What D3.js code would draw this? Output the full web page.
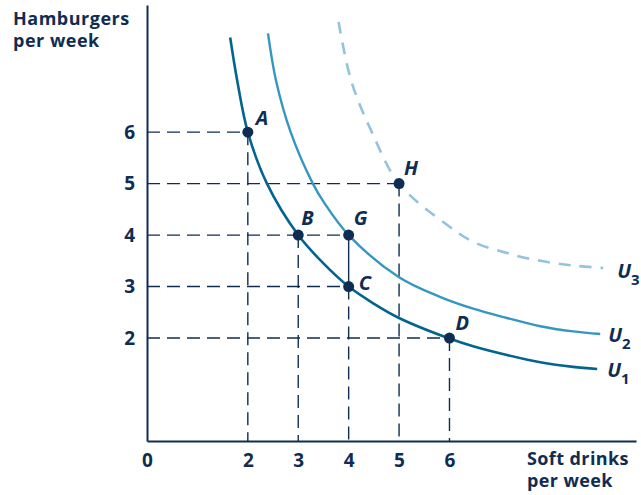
<!DOCTYPE html>
<html><head><meta charset="utf-8">
<script src="https://cdn.jsdelivr.net/npm/d3@7"></script>
<style>body{margin:0;background:#fff}svg{display:block}text{font-family:"Open Sans",sans-serif;font-weight:700;fill:#0f2d52}</style>
</head><body><svg id="c" width="641" height="495"></svg>
<script>
const xTicks = [0, 2, 3, 4, 5, 6];
const yTicks = [2, 3, 4, 5, 6];
const u1 = [[1.65,7.84],[1.79,7.0],[2,6],[2.38,5],[3,4],[3.49,3.46],[4,3],[4.48,2.68],[5,2.39],[6,1.99],[6.47,1.84],[7.14,1.67],[7.8,1.53],[8.45,1.44],[8.93,1.40]];
const u2 = [[2.4,7.92],[2.56,7.0],[2.85,6.0],[3.29,5],[3.52,4.62],[4,4],[5,3.18],[5.81,2.8],[6.47,2.57],[7.14,2.39],[7.8,2.23],[8.45,2.13],[8.99,2.08]];
const u3 = [[3.8,8.14],[4.05,7.0],[4.46,6.0],[5,5],[5.95,4.2],[6.47,3.87],[7.14,3.65],[7.8,3.5],[8.45,3.41],[9.05,3.36]];
const points = [
  {name:"A", x:2, y:6}, {name:"B", x:3, y:4}, {name:"C", x:4, y:3},
  {name:"D", x:6, y:2}, {name:"G", x:4, y:4}, {name:"H", x:5, y:5}
];
const curveLabels = [{sub:"3", data:u3, dx:14, dy:10}, {sub:"2", data:u2, dx:8, dy:8}, {sub:"1", data:u1, dx:10, dy:8}];

const svg = d3.select("#c");
const x = d3.scaleLinear().domain([0, 9.7]).range([147, 636]);
const y = d3.scaleLinear().domain([0, 8.47]).range([441, 5]);
const navy = "#0f2d52";

// dashed guides
const g = svg.append("g").attr("stroke", navy).attr("stroke-width", 1.4).attr("stroke-dasharray", "13,7").attr("fill","none");
const horiz = [{y:6,x:2},{y:5,x:5},{y:4,x:4},{y:3,x:4},{y:2,x:6}];
horiz.forEach(h => g.append("line").attr("x1", x(0)).attr("x2", x(h.x)).attr("y1", y(h.y)).attr("y2", y(h.y)));
const vert = [{x:2,y:6},{x:3,y:4},{x:4,y:3},{x:5,y:5},{x:6,y:2}];
vert.forEach(v => g.append("line").attr("x1", x(v.x)).attr("x2", x(v.x)).attr("y1", y(v.y)).attr("y2", y(0)));
svg.append("line").attr("stroke", navy).attr("stroke-width",1.4)
  .attr("x1", x(4)).attr("x2", x(4)).attr("y1", y(4)).attr("y2", y(3));

// axes
const xAxis = d3.axisBottom(x).tickValues(xTicks).tickSize(0).tickPadding(13).tickFormat(d3.format("d"));
const yAxis = d3.axisLeft(y).tickValues(yTicks).tickSize(0).tickPadding(12).tickFormat(d3.format("d"));
const xa = svg.append("g").attr("transform", `translate(0,${y(0)})`).call(xAxis);
const ya = svg.append("g").attr("transform", `translate(${x(0)},0)`).call(yAxis);
[xa, ya].forEach(a => {
  a.select(".domain").attr("stroke", navy).attr("stroke-width", 2);
  a.selectAll("text").style("font-size","19px").style("font-family","'Open Sans',sans-serif").style("font-weight","700").attr("fill", navy);
});

// curves
const line = d3.line().x(d => x(d[0])).y(d => y(d[1])).curve(d3.curveCatmullRom.alpha(0.5));
svg.append("path").datum(u3).attr("d", line).attr("fill","none").attr("stroke","#93c3dd").attr("stroke-width",2.6).attr("stroke-dasharray","12,9");
svg.append("path").datum(u2).attr("d", line).attr("fill","none").attr("stroke","#3597c1").attr("stroke-width",2.4);
svg.append("path").datum(u1).attr("d", line).attr("fill","none").attr("stroke","#03658f").attr("stroke-width",2.6);

// points
svg.selectAll("circle.pt").data(points).join("circle").attr("class","pt")
  .attr("cx", d => x(d.x)).attr("cy", d => y(d.y)).attr("r", 5.5).attr("fill", navy);
const off = {A:[8,-14], B:[3,-17], G:[5,-17], C:[10,-4], D:[6,-15], H:[5,-16]};
svg.selectAll("text.pl").data(points).join("text").attr("class","pl")
  .attr("x", d => x(d.x) + off[d.name][0]).attr("y", d => y(d.y) + off[d.name][1]).attr("dy","0.35em")
  .style("font-size","20px").style("font-style","italic").text(d => d.name);

// curve labels
const cl = svg.selectAll("text.cl").data(curveLabels).join("text").attr("class","cl")
  .attr("x", d => x(d.data[d.data.length-1][0]) + d.dx)
  .attr("y", d => y(d.data[d.data.length-1][1]) + d.dy)
  .style("font-size","20px").style("font-style","italic");
cl.append("tspan").text("U");
cl.append("tspan").attr("dy", 7).style("font-size","15px").style("font-style","normal").text(d => d.sub);

// axis titles
const yt = svg.append("text").attr("x", 13).attr("y", 25).style("font-size","18px").style("letter-spacing","0.5px");
yt.append("tspan").attr("x",13).text("Hamburgers");
yt.append("tspan").attr("x",13).attr("dy",22).text("per week");
const xt = svg.append("text").attr("x", 527).attr("y", 465).style("font-size","18px").style("letter-spacing","0.4px");
xt.append("tspan").attr("x",527).text("Soft drinks");
xt.append("tspan").attr("x",527).attr("dy",22).text("per week");
</script></body></html>
